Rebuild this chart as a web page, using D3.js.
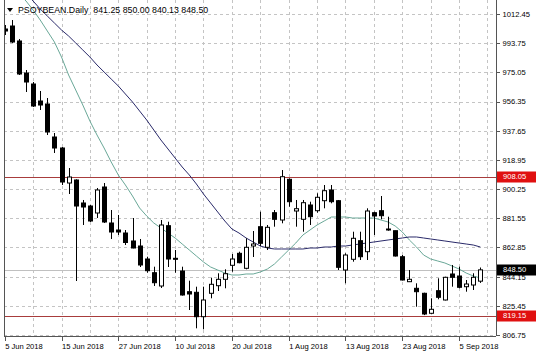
<!DOCTYPE html>
<html>
<head>
<meta charset="utf-8">
<script src="https://cdn.jsdelivr.net/npm/d3@7"></script>
<style>
  body { margin: 0; background: #fff; }
  svg { display: block; }
  text { font-family: "Liberation Sans", Arial, sans-serif; font-size: 7.6px; fill: #000; }
  .title { font-size: 8.8px; }
  .axis path, .axis line { stroke: #555; shape-rendering: crispEdges; }
  .grid line { stroke: #c4c4c4; stroke-dasharray: 3,3; shape-rendering: crispEdges; }
</style>
</head>
<body>
<div id="chart"></div>
<script>
// trading days shown (one bar each)
const dates = [
  "5 Jun 2018","6 Jun 2018","7 Jun 2018","8 Jun 2018","11 Jun 2018","12 Jun 2018","13 Jun 2018","14 Jun 2018",
  "15 Jun 2018","18 Jun 2018","19 Jun 2018","20 Jun 2018","21 Jun 2018","22 Jun 2018","25 Jun 2018","26 Jun 2018",
  "27 Jun 2018","28 Jun 2018","29 Jun 2018","2 Jul 2018","3 Jul 2018","5 Jul 2018","6 Jul 2018","9 Jul 2018",
  "10 Jul 2018","11 Jul 2018","12 Jul 2018","13 Jul 2018","16 Jul 2018","17 Jul 2018","18 Jul 2018","19 Jul 2018",
  "20 Jul 2018","23 Jul 2018","24 Jul 2018","25 Jul 2018","26 Jul 2018","27 Jul 2018","30 Jul 2018","31 Jul 2018",
  "1 Aug 2018","2 Aug 2018","3 Aug 2018","6 Aug 2018","7 Aug 2018","8 Aug 2018","9 Aug 2018","10 Aug 2018",
  "13 Aug 2018","14 Aug 2018","15 Aug 2018","16 Aug 2018","17 Aug 2018","20 Aug 2018","21 Aug 2018","22 Aug 2018",
  "23 Aug 2018","24 Aug 2018","27 Aug 2018","28 Aug 2018","29 Aug 2018","30 Aug 2018","31 Aug 2018","4 Sep 2018",
  "5 Sep 2018","6 Sep 2018","7 Sep 2018","10 Sep 2018"
];

const open = [1002.83,1004.76,995.15,974.64,967.59,956.70,954.77,933.63,926.58,904.15,906.07,891.34,889.41,884.93,901.59,878.52,874.03,
  872.11,866.99,863.78,855.45,846.67,838.15,876.79,855.90,847.76,834.50,834.11,818.48,833.47,838.34,842.44,851.41,859.10,849.49,
  863.78,876.15,862.95,885.12,880.44,906.52,886.21,880.89,890.06,886.40,892.81,899.67,892.81,848.40,855.26,867.18,860.13,885.12,
  886.40,874.67,873.58,856.92,840.91,836.68,833.47,820.66,835.14,829.18,845.84,844.56,837.70,838.79,841.25];
const high = [1005.40,1008.60,996.43,976.56,968.87,963.11,958.62,936.19,927.22,913.76,906.50,893.26,890.06,900.95,904.15,886.85,883.65,
  874.03,881.72,868.27,856.92,850.52,880.44,879.35,861.22,850.52,841.55,837.70,837.70,843.47,846.29,848.85,858.65,860.13,868.72,
  873.39,885.76,877.24,886.85,912.48,907.16,893.26,893.26,892.17,897.55,902.87,902.87,893.26,859.10,872.94,872.94,887.94,885.76,
  895.82,882.56,873.58,858.01,848.40,839.88,833.86,830.27,843.08,844.10,851.61,850.52,841.99,846.29,850.00];
const low = [998.99,993.86,973.36,962.46,952.85,950.93,934.91,923.38,902.87,897.10,841.35,877.24,879.16,881.72,878.52,868.27,870.83,
  864.42,862.30,850.32,846.67,838.15,836.87,850.32,846.67,832.00,822.77,811.04,810.40,830.27,834.95,836.68,847.31,852.70,848.85,
  856.73,863.78,861.22,876.15,878.33,888.96,876.15,872.94,877.24,885.12,887.94,891.14,848.40,839.88,853.72,854.81,854.81,870.83,
  880.89,873.58,857.05,841.67,840.70,824.88,819.50,820.21,829.63,828.90,837.70,836.68,834.50,835.59,840.13];
const close = [1001.55,994.50,974.00,968.87,953.49,954.13,936.83,926.58,904.79,908.00,889.41,888.77,879.80,899.67,879.16,872.75,872.75,
  866.02,862.50,851.61,847.95,840.26,877.24,855.45,855.26,832.38,833.02,818.48,829.18,839.24,842.44,846.03,855.45,853.08,862.95,
  865.06,865.51,875.76,880.89,908.19,892.17,887.68,891.53,882.56,894.99,899.22,892.17,850.13,858.01,868.72,856.92,886.21,883.01,
  883.20,874.03,857.37,841.99,842.44,834.50,820.21,823.22,830.91,843.72,843.72,837.32,839.43,843.72,848.50];

// moving averages (fast = green, slow = navy)
const maFast = [1035.52,1030.39,1025.26,1020.78,1015.01,1008.60,1001.55,994.50,984.89,973.36,963.75,954.13,943.88,934.91,926.58,917.61,
  909.28,902.87,895.82,888.13,883.01,878.52,875.32,872.11,868.91,865.06,861.22,857.37,853.53,850.32,848.40,846.48,845.20,845.20,
  845.84,845.84,847.12,849.04,852.25,856.73,861.22,865.70,870.83,874.03,877.24,879.80,882.36,882.36,882.36,881.72,881.72,881.72,
  881.72,880.44,879.16,876.60,872.75,867.63,863.14,858.01,855.45,854.17,852.89,850.97,849.04,846.48,844.56,843.28];
const maSlow = [1038.72,1034.23,1029.75,1025.26,1020.78,1015.65,1011.17,1006.68,1002.19,998.35,993.86,989.38,984.89,979.77,975.28,970.79,
  966.31,961.18,956.06,950.29,944.52,938.11,931.71,925.94,920.17,914.40,909.28,903.51,897.10,891.34,885.57,879.80,874.68,872.11,
  868.91,866.34,863.78,862.50,861.86,861.86,861.86,861.86,861.86,862.50,862.50,863.14,863.14,863.78,863.78,864.42,865.06,865.70,
  866.34,866.99,867.63,868.27,868.91,869.55,869.55,868.91,868.27,867.63,866.99,866.34,865.70,865.06,864.42,863.14];

const yTicks = [1012.45,993.75,975.05,956.35,937.65,918.95,900.25,881.55,862.85,844.15,825.45,806.75];
const levels = [908.05, 819.15];
const lastPrice = 848.50;
const title = "PSOYBEAN.Daily  841.25 850.00 840.13 848.50";

const W = 536, H = 358;
const plotLeft = 4, plotRight = 496, plotTop = 0, plotBottom = 336;

const bars = dates.map((d, i) => ({i, date: d, o: open[i], h: high[i], l: low[i], c: close[i]}));

const x = d3.scaleLinear().domain([-0.1, 69.2]).range([plotLeft, plotRight]);
const y = d3.scaleLinear().domain([806.75, 1012.45]).range([335, 14]);

const svg = d3.select("#chart").append("svg")
  .attr("width", W).attr("height", H);

svg.append("defs").append("clipPath").attr("id", "plot")
  .append("rect").attr("x", plotLeft).attr("y", plotTop)
  .attr("width", plotRight - plotLeft).attr("height", plotBottom - plotTop);

// grid
const gridIdx = d3.range(4, 69, 4);
svg.append("g").attr("class", "grid")
  .selectAll("line").data(gridIdx).join("line")
  .attr("x1", d => Math.round(x(d)) + 0.5).attr("x2", d => Math.round(x(d)) + 0.5)
  .attr("y1", plotTop).attr("y2", plotBottom);
svg.append("g").attr("class", "grid")
  .selectAll("line").data(yTicks).join("line")
  .attr("x1", plotLeft).attr("x2", plotRight)
  .attr("y1", d => Math.round(y(d)) + 0.5).attr("y2", d => Math.round(y(d)) + 0.5);

const plot = svg.append("g").attr("clip-path", "url(#plot)");

// bid line and levels
plot.append("line")
  .attr("x1", plotLeft).attr("x2", plotRight)
  .attr("y1", Math.round(y(lastPrice)) + 0.5).attr("y2", Math.round(y(lastPrice)) + 0.5)
  .attr("stroke", "#c0c0c0");
plot.selectAll("line.level").data(levels).join("line")
  .attr("class", "level")
  .attr("x1", plotLeft).attr("x2", plotRight)
  .attr("y1", d => Math.round(y(d)) + 0.5).attr("y2", d => Math.round(y(d)) + 0.5)
  .attr("stroke", "#a83c3c").attr("stroke-width", 1);

// title
svg.append("path").attr("d", "M7,8 L13,8 L10,12 Z").attr("fill", "#000");
svg.append("text").attr("class", "title").attr("x", 18).attr("y", 13)
  .attr("xml:space", "preserve").text(title);

// moving averages
const line = d3.line().x((d, i) => x(i)).y(d => y(d));
plot.append("path").datum(maFast).attr("d", line)
  .attr("fill", "none").attr("stroke", "#6aa898").attr("stroke-width", 1);
plot.append("path").datum(maSlow).attr("d", line)
  .attr("fill", "none").attr("stroke", "#2a2a6a").attr("stroke-width", 1);

// candles
const bw = 5;
const candle = plot.selectAll("g.candle").data(bars).join("g").attr("class", "candle");
candle.append("line")
  .attr("x1", d => Math.round(x(d.i)) + 0.5).attr("x2", d => Math.round(x(d.i)) + 0.5)
  .attr("y1", d => y(d.h)).attr("y2", d => y(d.l))
  .attr("stroke", "#000");
candle.append("rect")
  .attr("x", d => Math.round(x(d.i)) - 2 + 0.5)
  .attr("y", d => y(Math.max(d.o, d.c)))
  .attr("width", bw - 1)
  .attr("height", d => Math.max(1, Math.abs(y(d.o) - y(d.c))))
  .attr("fill", d => d.c >= d.o ? "#fff" : "#000")
  .attr("stroke", "#000");

// axes
const xAxis = d3.axisBottom(x)
  .tickValues(d3.range(0, dates.length, 8))
  .tickFormat(i => dates[i])
  .tickSize(4).tickSizeOuter(0);
const gx = svg.append("g").attr("class", "axis")
  .attr("transform", `translate(0,${plotBottom + 0.5})`).call(xAxis);
gx.selectAll(".tick text").attr("text-anchor", "start").attr("dx", 0).attr("y", 7);
gx.select(".domain").attr("d", `M${plotLeft},0H${plotRight}`);

const yAxis = d3.axisRight(y).tickValues(yTicks).tickFormat(d3.format(".2f")).tickSize(3).tickSizeOuter(0);
const gy = svg.append("g").attr("class", "axis")
  .attr("transform", `translate(${plotRight + 0.5},0)`).call(yAxis);
gy.select(".domain").attr("d", `M0,${plotTop}V${plotBottom}`);
gy.selectAll(".tick text").attr("x", 6);

svg.append("line").attr("x1", plotLeft + 0.5).attr("x2", plotLeft + 0.5)
  .attr("y1", plotTop).attr("y2", plotBottom).attr("stroke", "#555");

// price tags (the bid tag covers most of the 844.15 label, as in the original)
const tags = levels.map(v => ({v, bg: "#e01010"})).concat([{v: lastPrice, bg: "#000"}]);
const tag = svg.selectAll("g.tag").data(tags).join("g").attr("class", "tag")
  .attr("transform", d => `translate(${plotRight + 1},${Math.round(y(d.v))})`);
tag.append("rect").attr("x", 0).attr("y", -5.5).attr("width", 39).attr("height", 11).attr("fill", d => d.bg);
tag.append("text").attr("x", 6).attr("dy", "0.32em").style("fill", "#fff").text(d => d.v.toFixed(2));
</script>
</body>
</html>
